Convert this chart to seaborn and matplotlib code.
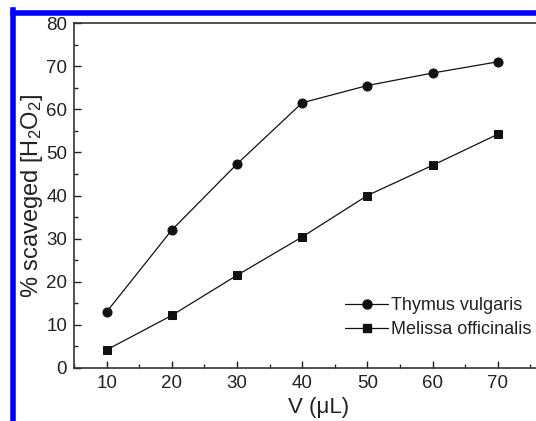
import matplotlib
matplotlib.use("Agg")
import matplotlib.pyplot as plt
from matplotlib.lines import Line2D
from matplotlib.ticker import MultipleLocator, FixedLocator
import seaborn as sns
import pandas as pd

volumes = [10, 20, 30, 40, 50, 60, 70]
thymus = [13.0, 32.0, 47.3, 61.5, 65.5, 68.4, 71.0]
melissa = [4.2, 12.2, 21.5, 30.4, 40.0, 47.0, 54.2]
series_names = ["Thymus vulgaris", "Melissa officinalis"]
x_ticks = [10, 20, 30, 40, 50, 60, 70]

df = pd.DataFrame({
    "V": volumes * 2,
    "pct": thymus + melissa,
    "species": [series_names[0]] * len(volumes) + [series_names[1]] * len(volumes),
})

sns.set_style("white")
plt.rcParams["font.family"] = ["Liberation Sans", "DejaVu Sans"]
plt.rcParams["mathtext.fontset"] = "custom"
plt.rcParams["mathtext.rm"] = "Liberation Sans"
plt.rcParams["mathtext.it"] = "Liberation Sans:italic"

fig = plt.figure(figsize=(5.36, 4.21), dpi=100)
ax = fig.add_axes([74 / 536, 53 / 421, 489 / 536, 345 / 421])

sns.lineplot(data=df, x="V", y="pct", hue="species", style="species",
             markers={series_names[0]: "o", series_names[1]: "s"},
             dashes=False, palette={series_names[0]: "#111111", series_names[1]: "#111111"},
             markersize=6.5, linewidth=0.9, markeredgecolor="#111111",
             ax=ax, legend=False)
for ln in ax.lines:
    if ln.get_marker() == "s":
        ln.set_markersize(5.5)

ax.set_xlim(5, 80)
ax.set_ylim(0, 80)
ax.xaxis.set_major_locator(FixedLocator(x_ticks))
ax.xaxis.set_minor_locator(MultipleLocator(5))
ax.yaxis.set_major_locator(MultipleLocator(10))
ax.yaxis.set_minor_locator(MultipleLocator(5))
ax.tick_params(axis="both", which="major", direction="in", length=5, width=1,
               labelsize=13.5, colors="#222222", pad=5)
ax.tick_params(axis="both", which="minor", direction="in", length=3, width=1)
ax.tick_params(axis="both", which="both", bottom=True, left=True, top=False, right=False)
for s in ax.spines.values():
    s.set_color("#333333")
    s.set_linewidth(1.2)
ax.spines["right"].set_visible(False)

ax.set_xlabel("V (μL)", fontsize=16, color="#222222", labelpad=4)
ax.set_ylabel("% scaveged [H$_2$O$_2$]", fontsize=17, color="#222222", labelpad=1)

handles = [
    Line2D([], [], color="#111111", marker="o", markersize=6.5, linewidth=0.9),
    Line2D([], [], color="#111111", marker="s", markersize=5.5, linewidth=0.9),
]
leg = ax.legend(handles, series_names, loc="lower left",
                bbox_to_anchor=(271 / 489, 30 / 345), frameon=False,
                fontsize=13, handlelength=2.4, handletextpad=0.15,
                labelspacing=0.38, borderaxespad=0, borderpad=0)
for t in leg.get_texts():
    t.set_color("#222222")

# blue frame on left and top
fig.add_artist(Line2D([12.5 / 536, 12.5 / 536], [0, 1 - 10 / 421],
                      transform=fig.transFigure, color="#0000ff", linewidth=4,
                      solid_capstyle="projecting"))
fig.add_artist(Line2D([12.5 / 536, 1], [1 - 12.5 / 421, 1 - 12.5 / 421],
                      transform=fig.transFigure, color="#0000ff", linewidth=4,
                      solid_capstyle="projecting"))

fig.savefig("out.png", dpi=100)
